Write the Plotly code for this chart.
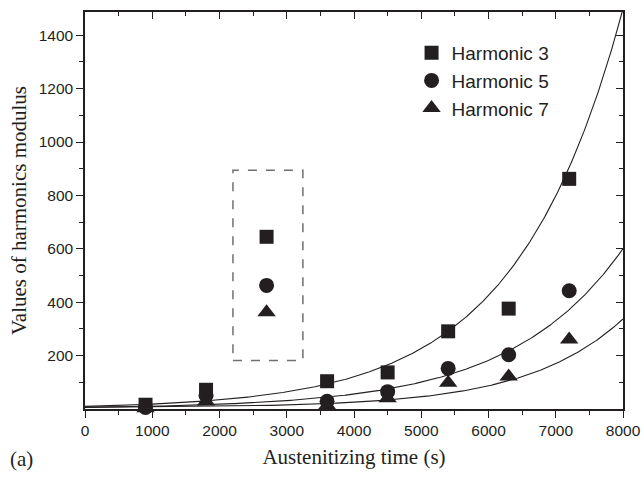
import numpy as np
import plotly.graph_objects as go

# Data
time_s = [900, 1800, 2700, 3600, 4500, 5400, 6300, 7200]
harm3 = [16, 72, 645, 104, 137, 291, 376, 862]
harm5 = [6, 51, 463, 29, 65, 152, 203, 443]
harm7 = [3, 28, 362, 13, 40, 98, 122, 260]

series_names = ["Harmonic 3", "Harmonic 5", "Harmonic 7"]
series_symbols = ["square", "circle", "triangle-up"]
series_sizes = [14, 15, 16]

# exponential growth fits  y = y0 + A*exp(b*t)
fit_y0 = [0.0, 1.5, 5.0]
fit_A = [9.7, 4.93, 1.228]
fit_b = [6.3e-4, 6.0e-4, 7.0e-4]

x_ticks = [0, 1000, 2000, 3000, 4000, 5000, 6000, 7000, 8000]
x_minor = [500, 1500, 2500, 3500, 4500, 5500, 6500, 7500]
y_ticks = [200, 400, 600, 800, 1000, 1200, 1400]
y_minor = [100, 300, 500, 700, 900, 1100, 1300]

# dashed highlight box (data coords)
box_x = [2200, 3240]
box_y = [182, 894]

X_RANGE = [0, 8000]
Y_RANGE = [0, 1487]
INK = "#231f20"
SANS = "Liberation Sans, Arial, sans-serif"
SERIF = "Liberation Serif, Times New Roman, serif"

fig = go.Figure()

t_grid = np.linspace(X_RANGE[0], X_RANGE[1], 401)
for y0, A, b in zip(fit_y0, fit_A, fit_b):
    fig.add_trace(go.Scatter(x=t_grid, y=y0 + A * np.exp(b * t_grid), mode="lines",
                             line=dict(color=INK, width=1.1), showlegend=False,
                             hoverinfo="skip"))

for name, sym, sz, vals in zip(series_names, series_symbols, series_sizes,
                               [harm3, harm5, harm7]):
    fig.add_trace(go.Scatter(x=time_s, y=vals, mode="markers", name=name,
                             marker=dict(symbol=sym, size=sz, color=INK,
                                         line=dict(width=0)),
                             cliponaxis=False))

# invisible trace to activate mirror axes (top / right, inside ticks)
fig.add_trace(go.Scatter(x=X_RANGE, y=Y_RANGE, xaxis="x2", yaxis="y2",
                         mode="markers", marker=dict(opacity=0),
                         showlegend=False, hoverinfo="skip"))

fig.add_shape(type="rect", xref="x", yref="y", x0=box_x[0], x1=box_x[1],
              y0=box_y[0], y1=box_y[1],
              line=dict(color="#6f6f6f", width=1.5, dash="dash"))

axis_common = dict(showgrid=False, zeroline=False, showline=True,
                   linecolor=INK, linewidth=1.5, tickcolor=INK, tickwidth=1.2)
TICKFONT = dict(size=15.5, family=SANS, color=INK)

fig.update_layout(
    width=644, height=479,
    margin=dict(l=85, r=21, t=12, b=70, autoexpand=False),
    paper_bgcolor="white", plot_bgcolor="white",
    font=dict(family=SANS, color=INK),
    xaxis=dict(range=X_RANGE, tickvals=x_ticks, ticks="outside", ticklen=7,
               tickfont=TICKFONT, automargin=False,
               minor=dict(tickvals=x_minor, ticks="outside", ticklen=4,
                          tickcolor=INK, tickwidth=1.2),
               title=dict(text="Austenitizing time (s)",
                          font=dict(size=21, family=SERIF, color=INK), standoff=11),
               **axis_common),
    yaxis=dict(range=Y_RANGE, tickvals=y_ticks, ticks="outside", ticklen=7,
               tickfont=TICKFONT, automargin=False,
               minor=dict(tickvals=y_minor, ticks="outside", ticklen=4,
                          tickcolor=INK, tickwidth=1.2),
               title=dict(text="Values of harmonics modulus",
                          font=dict(size=21, family=SERIF, color=INK), standoff=6),
               **axis_common),
    xaxis2=dict(range=X_RANGE, overlaying="x", side="top", anchor="y2",
                tickvals=x_ticks, ticks="inside", ticklen=7, showticklabels=False,
                automargin=False,
                minor=dict(tickvals=x_minor, ticks="inside", ticklen=4,
                           tickcolor=INK, tickwidth=1.2),
                **axis_common),
    yaxis2=dict(range=Y_RANGE, overlaying="y", side="right", anchor="x2",
                tickvals=y_ticks, ticks="inside", ticklen=7, showticklabels=False,
                automargin=False,
                minor=dict(tickvals=y_minor, ticks="inside", ticklen=4,
                           tickcolor=INK, tickwidth=1.2),
                **axis_common),
    legend=dict(x=0.607, y=0.945, xanchor="left", yanchor="top",
                bgcolor="rgba(0,0,0,0)", font=dict(size=19, family=SANS, color=INK),
                tracegroupgap=0, itemwidth=30),
    annotations=[dict(text="(a)", xref="paper", yref="paper", x=-0.143, y=-0.127,
                      xanchor="left", yanchor="middle", showarrow=False,
                      font=dict(size=21, family=SERIF, color=INK))],
)

fig.write_html("out.html")
